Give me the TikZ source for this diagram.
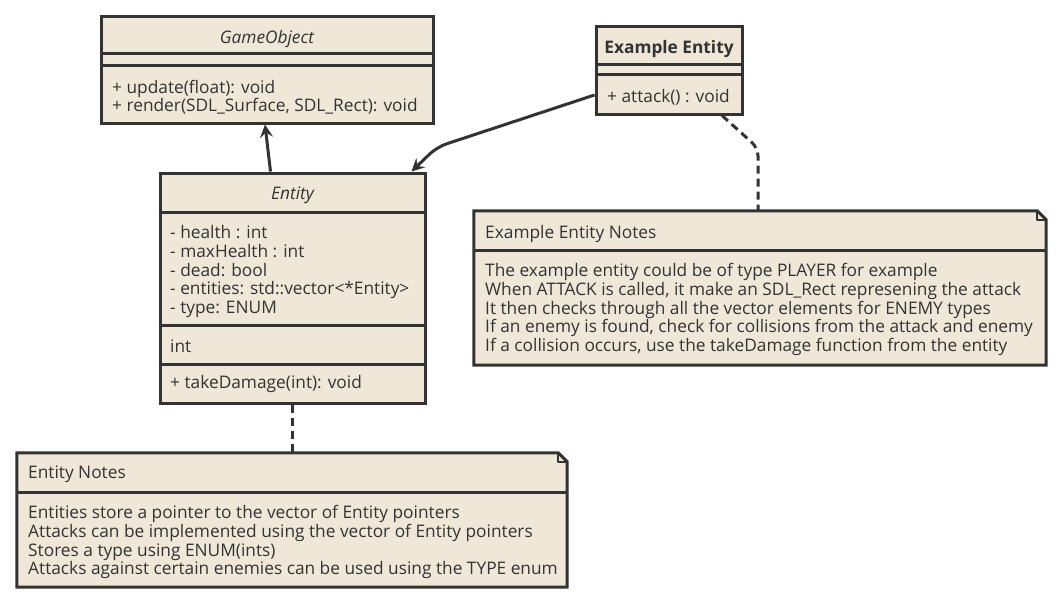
\documentclass[tikz,border=0pt]{standalone}
\usepackage{fontspec}
\setmainfont{Open Sans}
\usetikzlibrary{arrows.meta,calc}
\definecolor{umlfill}{RGB}{239,232,216}
\definecolor{umlline}{RGB}{51,51,51}

\begin{document}
\begin{tikzpicture}[x=1pt,y=-1pt]
\tikzstyle{every node}=[font=\fontsize{17.3}{18.75}\selectfont, text=umlline, inner sep=0pt];
\tikzstyle{classbox}=[draw=umlline, fill=umlfill, line width=3pt, rectangle];
\tikzstyle{noteframe}=[rectangle, minimum width=0pt];
\tikzstyle{member}=[anchor=base west];
\tikzstyle{title}=[anchor=base];
\tikzstyle{sep}=[draw=umlline, line width=3pt];
\tikzstyle{link}=[draw=umlline, line width=3pt, line join=round];
\tikzstyle{notelink}=[link, dash pattern=on 8pt off 5pt];
\useasboundingbox (0,0) rectangle (1059,602);

% GameObject
\node[classbox, minimum width=332pt, minimum height=106pt] (gob) at (267,70) {};
\draw[sep] (gob.west |- 0,54) -- (gob.east |- 0,54) (gob.west |- 0,65) -- (gob.east |- 0,65);
\node[title] (gob-name) at (267,43.5) {\itshape GameObject};
\node[member] (gob-1) at (112,93) {+ update(float): void};
\node[member] (gob-2) at (112,111.5) {+ render(SDL\_Surface, SDL\_Rect): void};

% Entity
\node[classbox, minimum width=265pt, minimum height=230pt] (ent) at (292.5,288) {};
\foreach \y in {212,325,364}
    \draw[sep] (ent.west |- 0,\y) -- (ent.east |- 0,\y);
\node[title] (ent-name) at (292.5,199.5) {\itshape Entity};
\foreach \txt [count=\i] in {- health : int, - maxHealth : int, - dead: bool,
    - entities: std::vector<*Entity>, - type: ENUM}
    \node[member] (ent-\i) at (170,219.75+18.75*\i) {\txt};
\node[member] (ent-int) at (170,352.5) {int};
\node[member] (ent-op) at (170,388.5) {+ takeDamage(int): void};

% Example Entity
\node[classbox, minimum width=146pt, minimum height=87pt] (eex) at (669,70.5) {};
\draw[sep] (eex.west |- 0,64) -- (eex.east |- 0,64) (eex.west |- 0,74) -- (eex.east |- 0,74);
\node[title] (eex-name) at (669,53.5) {\bfseries Example Entity};
\node[member] (eex-1) at (607,102.5) {+ attack() : void};

% notes
\node[noteframe, minimum width=572pt, minimum height=154pt] (eenote) at (760,288) {};
\draw[classbox] (eenote.north west) -- ($(eenote.north east)+(-9,0)$) -- ($(eenote.north east)+(0,9)$)
    -- (eenote.south east) -- (eenote.south west) -- cycle;
\draw[link, line width=2pt] ($(eenote.north east)+(-9,0)$) |- ($(eenote.north east)+(0,9)$);
\draw[sep] (eenote.west |- 0,250) -- (eenote.east |- 0,250);
\node[member] (eenote-name) at (485,238.5) {Example Entity Notes};
\foreach \txt [count=\i] in {The example entity could be of type PLAYER for example,
    {When ATTACK is called, it make an SDL\_Rect represening the attack},
    It then checks through all the vector elements for ENEMY types,
    {If an enemy is found, check for collisions from the attack and enemy},
    {If a collision occurs, use the takeDamage function from the entity}}
    \node[member] (eenote-\i) at (485,257.75+18.75*\i) {\txt};

\node[noteframe, minimum width=550pt, minimum height=134pt] (enote) at (292,520) {};
\draw[classbox] (enote.north west) -- ($(enote.north east)+(-9,0)$) -- ($(enote.north east)+(0,9)$)
    -- (enote.south east) -- (enote.south west) -- cycle;
\draw[link, line width=2pt] ($(enote.north east)+(-9,0)$) |- ($(enote.north east)+(0,9)$);
\draw[sep] (enote.west |- 0,492) -- (enote.east |- 0,492);
\node[member] (enote-name) at (28,478.5) {Entity Notes};
\foreach \txt [count=\i] in {Entities store a pointer to the vector of Entity pointers,
    Attacks can be implemented using the vector of Entity pointers,
    Stores a type using ENUM(ints),
    Attacks against certain enemies can be used using the TYPE enum}
    \node[member] (enote-\i) at (28,499.75+18.75*\i) {\txt};

% connectors
\draw[link, -{Stealth[length=13pt,width=13pt,inset=5pt]}] ($(ent.north)+(-22,0)$) -- ($(gob.south)+(-2,0)$);
\draw[link, rounded corners=10pt, -{Stealth[length=13pt,width=13pt,inset=5pt]}]
    ($(eex.west)+(0,24.5)$) -- (437,147) -- ($(ent.north east)+(-15,0)$);
\draw[notelink, rounded corners=8pt] ($(eex.south)+(53,0)$) -- (758,148) -- ($(eenote.north)+(-2,0)$);
\draw[notelink] (ent.south) -- (enote.north -| ent.south);
\end{tikzpicture}
\end{document}
